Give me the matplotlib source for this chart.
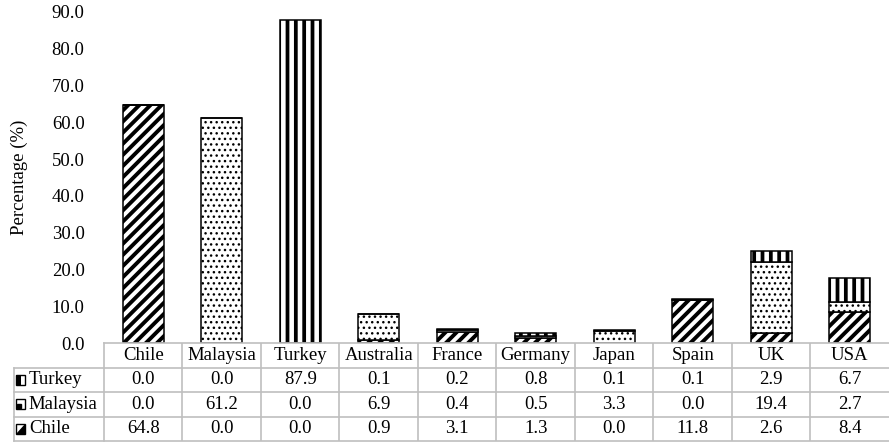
import numpy as np
import matplotlib.pyplot as plt
from matplotlib.patches import Rectangle, Polygon

plt.rcParams['font.family'] = ['Liberation Serif', 'DejaVu Serif']
plt.rcParams['font.size'] = 13.5

countries = ['Chile', 'Malaysia', 'Turkey', 'Australia', 'France',
             'Germany', 'Japan', 'Spain', 'UK', 'USA']
chile = [64.8, 0.0, 0.0, 0.9, 3.1, 1.3, 0.0, 11.8, 2.6, 8.4]
malaysia = [0.0, 61.2, 0.0, 6.9, 0.4, 0.5, 3.3, 0.0, 19.4, 2.7]
turkey = [0.0, 0.0, 87.9, 0.1, 0.2, 0.8, 0.1, 0.1, 2.9, 6.7]
yticks = np.arange(0, 100, 10)

W, H = 889, 446
fig = plt.figure(figsize=(W / 100, H / 100), dpi=100)

# main plot area (pixel based layout)
ax = fig.add_axes([104 / W, (H - 343) / H, 785 / W, 331 / H])
x = np.arange(len(countries))
bw = 0.52

series = [('Chile', chile, '///', 2.8), ('Malaysia', malaysia, '...', 1.0),
          ('Turkey', turkey, '||', 2.7)]
bottom = np.zeros(len(countries))
for name, vals, hatch, hlw in series:
    with plt.rc_context({'hatch.linewidth': hlw}):
        ax.bar(x, vals, bw, bottom=bottom, color='white', edgecolor='black',
               hatch=hatch, linewidth=1.1, label=name)
    bottom += np.array(vals)

ax.set_xlim(-0.5, len(countries) - 0.5)
ax.set_ylim(0, 90)
ax.set_yticks(yticks)
ax.set_yticklabels([f'{v:.1f}' for v in yticks])
ax.set_xticks([])
ax.tick_params(axis='y', length=0, pad=14)
for s in ax.spines.values():
    s.set_visible(False)
ax.set_ylabel('Percentage (%)', labelpad=17)

# data table underneath the bars
lab_w = 90 / 78.5
tax = fig.add_axes([14 / W, 5 / H, (W - 14) / W, 98 / H])
tax.set_xlim(-0.5 - lab_w, len(countries) - 0.5)
tax.set_ylim(0, 4)
tax.axis('off')
grid = '#bfbfbf'
x0 = -0.5 - lab_w
right = len(countries) - 0.5
kw, kh = 0.12, 0.39


def legend_key(name, yc):
    kx, ky = x0 + 0.025, yc - kh / 2
    tax.add_patch(Rectangle((kx, ky), kw, kh, facecolor='white',
                            edgecolor='black', lw=1.0))
    if name == 'Turkey':
        tax.add_patch(Rectangle((kx, ky), kw * 0.5, kh, facecolor='black', lw=0))
    elif name == 'Chile':
        tax.add_patch(Polygon([(kx, ky), (kx + kw, ky), (kx + kw, ky + kh)],
                              facecolor='black', lw=0))
    else:
        tax.plot(kx + kw * 0.35, ky + kh * 0.35, 's', color='black', ms=2.5)


rows = [('Turkey', turkey), ('Malaysia', malaysia), ('Chile', chile)]

# header row
tax.plot([-0.5, right], [4, 4], color=grid, lw=1.2, clip_on=False)
tax.plot([-0.5, -0.5], [0, 4], color=grid, lw=1.2, clip_on=False)
for i, c in enumerate(countries):
    tax.text(i, 3.5, c, ha='center', va='center')
    if i > 0:
        tax.plot([i - 0.5, i - 0.5], [0, 4], color=grid, lw=1.2)

for r, (name, vals) in enumerate(rows):
    y0 = 3 - r
    tax.plot([x0, right], [y0, y0], color=grid, lw=1.2, clip_on=False)
    legend_key(name, y0 - 0.5)
    tax.text(x0 + 0.19, y0 - 0.5, name, ha='left', va='center')
    for i, v in enumerate(vals):
        tax.text(i, y0 - 0.5, f'{v:.1f}', ha='center', va='center')
tax.plot([x0, x0], [0, 3], color=grid, lw=1.2, clip_on=False)
tax.plot([x0, right], [0, 0], color=grid, lw=1.2, clip_on=False)

fig.savefig('out.png', dpi=100)
